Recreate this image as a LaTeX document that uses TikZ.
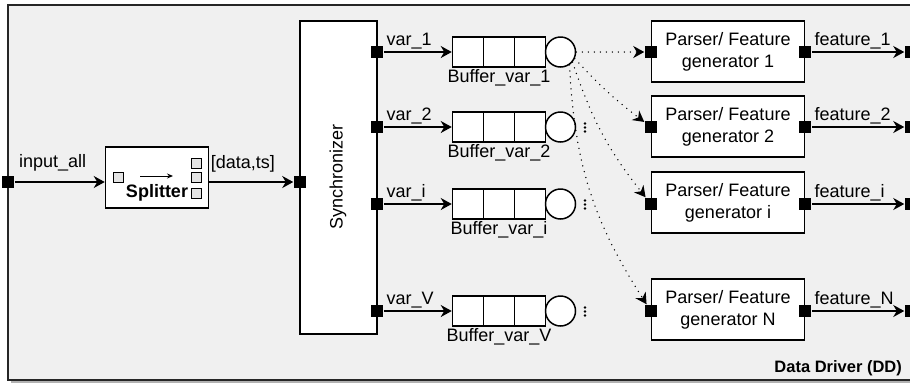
\documentclass[tikz,border=0pt]{standalone}
\usepackage{fontspec}
\setmainfont{Liberation Sans}
\usetikzlibrary{arrows.meta}
\definecolor{DDGray}{RGB}{240,240,240}
\definecolor{PortGray}{RGB}{228,228,228}

\begin{document}
\begin{tikzpicture}[x=1pt, y=-1pt, line width=1.5pt,
  every node/.style={font=\fontsize{18}{22}\selectfont},
  blk/.style={draw, fill=white, inner sep=0pt},
  port/.style={fill=black, minimum size=12pt, inner sep=0pt},
  sq/.style={draw, fill=PortGray, line width=1pt, minimum size=10pt, inner sep=0pt},
  cell/.style={draw, fill=white, minimum width=31pt, minimum height=30pt, inner sep=0pt},
  tail/.style={draw, fill=white, circle, minimum size=30pt, inner sep=0pt},
  arr/.style={-{Stealth[length=11pt,width=12pt,inset=3.5pt]}},
  dots/.style={arr, line cap=round, dash pattern=on 0pt off 6pt},
  lbl/.style={inner sep=2pt}]
\useasboundingbox (0,0) rectangle (910,384);

% frame
\fill[black!30] (11,8) rectangle (914,383);
\draw[fill=DDGray, draw=black!85] (8,5) rectangle (911,380);
\node[font=\bfseries\fontsize{16.5}{18}\selectfont, anchor=east] (ddlbl) at (906,368) {Data Driver (DD)};

% Splitter
\node[port] (inport) at (8,182) {};
\node[blk, minimum width=103pt, minimum height=61pt] (split) at (157,177.5) {};
\node[sq] (sin) at (118.5,177.5) {};
\node[sq] (sout1) at (196.5,163) {};
\node[sq] (sout2) at (196.5,177) {};
\node[sq] (sout3) at (196.5,193) {};
\coordinate (sa) at (140,176);
\coordinate (sb) at (173,176);
\draw[line width=1pt, -{Stealth[length=6pt,width=5pt,inset=2pt]}] (sa) -- (sb);
\node[font=\bfseries\fontsize{18}{22}\selectfont] (splitlbl) at (157,193) {Splitter};
\draw[arr] (inport) -- (inport -| split.west) node[lbl, above=8pt, pos=0.42] {input\_all};

% Synchronizer
\node[blk, minimum width=77pt, minimum height=313pt] (sync) at (338.5,177.5) {};
\node[rotate=90] (synclbl) at (338,177) {Synchronizer};
\node[port] (syin) at (300,182) {};
\draw[arr] (syin -| split.east) -- (syin) node[lbl, above=7pt, pos=0.4] {[data,ts]};
\node[port] (sy1) at (377,52) {};
\node[port] (sy2) at (377,127) {};
\node[port] (syi) at (377,204) {};
\node[port] (syV) at (377,311) {};

% Buffers
\node[cell] (b1a) at (468,52) {};
\node[cell] (b1b) at (499,52) {};
\node[cell] (b1c) at (530,52) {};
\node[tail] (c1) at (560.5,52) {};
\node (bl1) at (499,78) {Buffer\_var\_1};
\draw[arr] (sy1) -- (b1a) node[lbl, pos=0, above right] {var\_1};

\node[cell] (b2a) at (468,127) {};
\node[cell] (b2b) at (499,127) {};
\node[cell] (b2c) at (530,127) {};
\node[tail] (c2) at (560.5,127) {};
\node (bl2) at (499,153) {Buffer\_var\_2};
\draw[arr] (sy2) -- (b2a) node[lbl, pos=0, above right] {var\_2};
\fill (585,123.5) circle (1.4) (585,127.5) circle (1.4) (585,131.5) circle (1.4);

\node[cell] (bia) at (468,204) {};
\node[cell] (bib) at (499,204) {};
\node[cell] (bic) at (530,204) {};
\node[tail] (ci) at (560.5,204) {};
\node (bli) at (499,230) {Buffer\_var\_i};
\draw[arr] (syi) -- (bia) node[lbl, pos=0, above right] {var\_i};
\fill (585,200.5) circle (1.4) (585,204.5) circle (1.4) (585,208.5) circle (1.4);

\node[cell] (bVa) at (468,311) {};
\node[cell] (bVb) at (499,311) {};
\node[cell] (bVc) at (530,311) {};
\node[tail] (cV) at (560.5,311) {};
\node (blV) at (499,337) {Buffer\_var\_V};
\draw[arr] (syV) -- (bVa) node[lbl, pos=0, above right] {var\_V};
\fill (585,307.5) circle (1.4) (585,311.5) circle (1.4) (585,315.5) circle (1.4);

% Parser / feature generators
\node[blk, minimum width=153pt, minimum height=61pt, align=center] (p1) at (728,51.5) {Parser/ Feature\\generator 1};
\node[blk, minimum width=153pt, minimum height=61pt, align=center] (p2) at (728,126.5) {Parser/ Feature\\generator 2};
\node[blk, minimum width=153pt, minimum height=61pt, align=center] (pi) at (728,202.5) {Parser/ Feature\\generator i};
\node[blk, minimum width=153pt, minimum height=61pt, align=center] (pN) at (728,309.5) {Parser/ Feature\\generator N};
\node[port] (pl1) at (651,52) {};
\node[port] (pl2) at (651,127) {};
\node[port] (pli) at (651,204) {};
\node[port] (plN) at (651,311) {};
\node[port] (pr1) at (805,52) {};
\node[port] (pr2) at (805,127) {};
\node[port] (pri) at (805,204) {};
\node[port] (prN) at (805,311) {};
\node[port] (fo1) at (911,52) {};
\node[port] (fo2) at (911,127) {};
\node[port] (foi) at (911,204) {};
\node[port] (foN) at (911,311) {};
\draw[arr] (pr1) -- (fo1) node[lbl, pos=0, above right] {feature\_1};
\draw[arr] (pr2) -- (fo2) node[lbl, pos=0, above right] {feature\_2};
\draw[arr] (pri) -- (foi) node[lbl, pos=0, above right] {feature\_i};
\draw[arr] (prN) -- (foN) node[lbl, pos=0, above right] {feature\_N};

% dotted dispatch from buffer 1
\draw[dots] (c1.east) -- (pl1);
\draw[dots] (c1.-25) to[bend right=5] (pl2);
\draw[dots] (c1.-40) to[bend right=10] (pli);
\draw[dots] (c1.-55) to[bend right=15] (plN);
\end{tikzpicture}
\end{document}
